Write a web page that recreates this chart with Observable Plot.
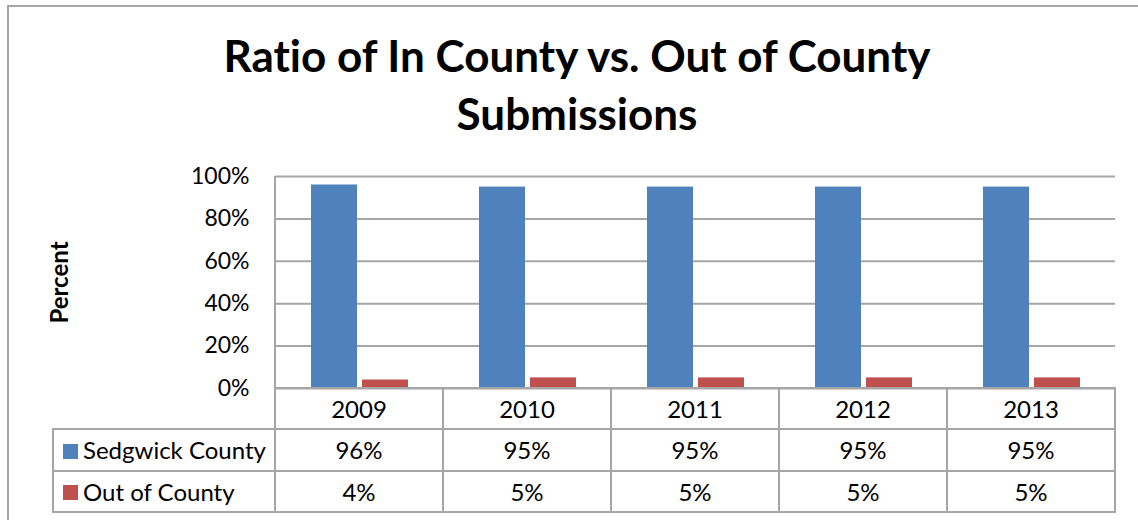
<!DOCTYPE html>
<html><head><meta charset="utf-8">
<script src="https://cdn.jsdelivr.net/npm/d3@7"></script>
<script src="https://cdn.jsdelivr.net/npm/@observablehq/plot@0.6"></script>
<style>
html,body{margin:0;padding:0;background:#fff;}
#wrap{position:relative;width:1138px;height:520px;overflow:hidden;font-family:Lato,sans-serif;color:#000;background:#fff;font-variant-ligatures:none;}
#frame{position:absolute;left:7px;top:5px;width:1300px;height:700px;border-left:2px solid #A6A6A6;border-top:2px solid #A6A6A6;}
#title{position:absolute;left:7px;width:1140px;top:26px;text-align:center;font-weight:700;font-size:44px;line-height:58px;}
#chart{position:absolute;left:0;top:150px;}
#chart svg{overflow:visible;}
#chart g[aria-label="y-axis label"] text{font-weight:700;font-size:24px;}
.ln{position:absolute;background:#A6A6A6;}
.cell{position:absolute;text-align:center;font-size:24px;white-space:nowrap;}
.key{position:absolute;width:15px;height:15px;}
</style></head>
<body>
<div id="wrap">
  <div id="frame"></div>
  <div id="title">Ratio of In County vs. Out of County<br>Submissions</div>
  <div id="chart"></div>
</div>
<script>
const years = ["2009", "2010", "2011", "2012", "2013"];
const series = ["Sedgwick County", "Out of County"];
const sedgwick = [96, 95, 95, 95, 95];
const outCounty = [4, 5, 5, 5, 5];
const colors = ["#4F81BD", "#C0504D"];
const yTicks = [0, 20, 40, 60, 80, 100];
const yLabel = "Percent";

const values = [sedgwick, outCounty];
const data = years.flatMap((yr, i) => series.map((s, j) => ({year: yr, series: s, value: values[j][i]})));

const svgTop = 150;
const chart = Plot.plot({
  width: 1138, height: 370,
  marginTop: 26, marginBottom: 132, marginLeft: 275, marginRight: 23,
  style: {fontFamily: "Lato, sans-serif", fontSize: "23px", color: "#000", background: "transparent", overflow: "visible", fontVariantLigatures: "none"},
  facet: {data, x: "year"},
  fx: {domain: years, padding: 0, axis: null, label: null},
  x: {domain: series, paddingInner: 0.1, paddingOuter: 0.69, axis: null},
  y: {domain: [0, 100], ticks: yTicks, tickFormat: d => d + "%", tickSize: 0, tickPadding: 26,
      label: yLabel, labelAnchor: "center", labelOffset: 225, labelArrow: false},
  color: {domain: series, range: colors},
  marks: [
    Plot.ruleY(yTicks, {stroke: "#A6A6A6", strokeWidth: 2}),
    Plot.barY(data, {x: "series", y: "value", fill: "series"})
  ]
});
document.getElementById("chart").appendChild(chart);

// Data table below the plot, aligned to the library's scales
const wrap = document.getElementById("wrap");
const fx = chart.scale("fx");
const ys = chart.scale("y");
const bw = fx.bandwidth;
const edges = years.map(y => fx.apply(y));
edges.push(edges[edges.length - 1] + bw);
const plotLeft = edges[0], plotRight = edges[edges.length - 1];
const yZero = svgTop + ys.apply(0), yTop = svgTop + ys.apply(100);
const legendLeft = 53;
const rowH = [41, 42, 41];
const rowY = [yZero, yZero + rowH[0], yZero + rowH[0] + rowH[1], yZero + rowH[0] + rowH[1] + rowH[2]];

function line(x, y, w, h) {
  const d = document.createElement("div");
  d.className = "ln";
  Object.assign(d.style, {left: x + "px", top: y + "px", width: w + "px", height: h + "px"});
  wrap.appendChild(d);
}
function cell(text, x, y, w, h, align) {
  const d = document.createElement("div");
  d.className = "cell";
  d.textContent = text;
  Object.assign(d.style, {left: x + "px", top: y + "px", width: w + "px", height: h + "px", lineHeight: h + "px"});
  if (align) d.style.textAlign = align;
  wrap.appendChild(d);
  return d;
}
// horizontal lines
line(plotLeft - 1, rowY[0] - 1, plotRight - plotLeft + 2, 2);
for (let r = 1; r < 4; r++) line(legendLeft - 1, rowY[r] - 1, plotRight - legendLeft + 2, 2);
// vertical lines
line(plotLeft - 1, yTop, 2, rowY[3] - yTop + 1);
edges.slice(1).forEach(x => line(x - 1, rowY[0] - 1, 2, rowY[3] - rowY[0] + 2));
line(legendLeft - 1, rowY[1] - 1, 2, rowY[3] - rowY[1] + 2);
// header row: years
years.forEach((yr, i) => cell(yr, edges[i], rowY[0], bw, rowY[1] - rowY[0]));
// series rows
series.forEach((s, j) => {
  const top = rowY[j + 1], h = rowY[j + 2] - rowY[j + 1];
  const k = document.createElement("div");
  k.className = "key";
  Object.assign(k.style, {left: (legendLeft + 10) + "px", top: (top + (h - 15) / 2 + 1) + "px", background: colors[j]});
  wrap.appendChild(k);
  cell(s, legendLeft + 30, top, plotLeft - legendLeft - 30, h, "left");
  years.forEach((yr, i) => cell(values[j][i] + "%", edges[i], top, bw, h));
});
</script>
</body></html>
